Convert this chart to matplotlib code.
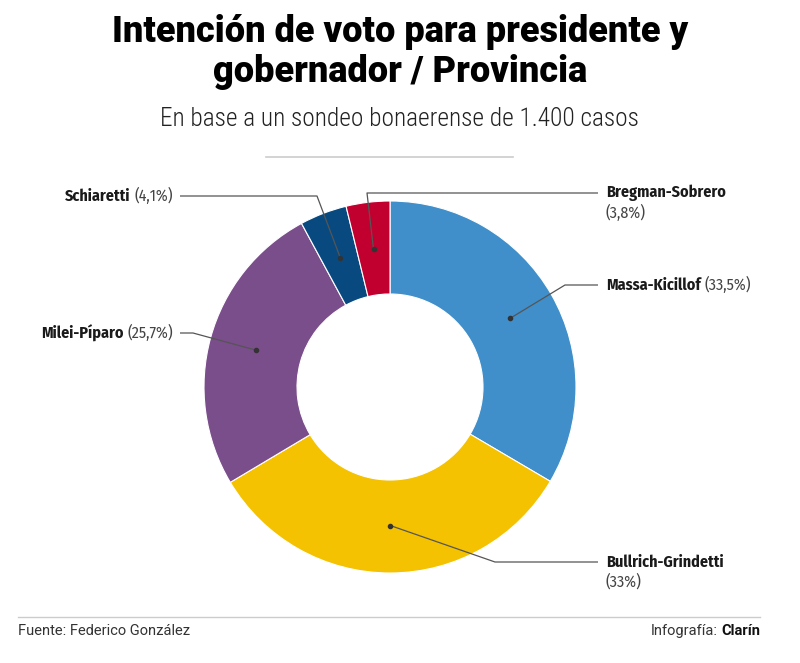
import matplotlib
matplotlib.use("Agg")
import matplotlib.pyplot as plt
import numpy as np

# ---- data ----
categories = ["Massa-Kicillof", "Bullrich-Grindetti", "Milei-Píparo", "Schiaretti", "Bregman-Sobrero"]
values = [33.5, 33.0, 25.7, 4.1, 3.8]
value_labels = ["(33,5%)", "(33%)", "(25,7%)", "(4,1%)", "(3,8%)"]
colors = ["#408FCA", "#F4C200", "#7A4D8B", "#084A80", "#C1002F"]

title_lines = ["Intención de voto para presidente y", "gobernador / Provincia"]
subtitle = "En base a un sondeo bonaerense de 1.400 casos"
source = "Fuente: Federico González"

W, H = 800, 663
fig = plt.figure(figsize=(W / 100, H / 100), dpi=100)
ax = fig.add_axes([0, 0, 1, 1])

def Y(y):
    return H - y

TITLEF = ["Roboto", "DejaVu Sans"]
SUBF = ["Roboto Condensed", "DejaVu Sans"]
LABELF = ["Fira Sans Condensed", "DejaVu Sans"]

cx, cy, R = 390, 387, 186
wedges, _ = ax.pie(values, startangle=90, counterclock=False, colors=colors,
                   radius=R, center=(cx, Y(cy)),
                   wedgeprops=dict(width=R * 0.5, edgecolor="white", linewidth=0.8))
ax.set_xlim(0, W)
ax.set_ylim(0, H)
ax.set_aspect("equal")
ax.axis("off")

layout = {
    "Massa-Kicillof": (565, 285, "right", True),
    "Bullrich-Grindetti": (495, 562, "right", False),
    "Milei-Píparo": (193, 333, "left", True),
    "Schiaretti": (317, 196, "left", True),
    "Bregman-Sobrero": (367, 193, "right", False),
}

FS = 11.5
for w, name, vl in zip(wedges, categories, value_labels):
    ang = np.deg2rad((w.theta1 + w.theta2) / 2)
    r = R * 0.745
    px, py = cx + r * np.cos(ang), Y(cy) + r * np.sin(ang)
    ex, ey, side, single = layout[name]
    endx = 598 if side == "right" else 180
    ax.plot([px, ex, endx], [py, Y(ey), Y(ey)], color="#555555", lw=0.9,
            solid_capstyle="butt", zorder=5)
    ax.plot([px], [py], "o", color="#333333", ms=3, zorder=6)
    if side == "right":
        tx = 606
        t = ax.text(tx, Y(ey), name, ha="left", va="center",
                    fontsize=FS, fontweight="bold", family=LABELF, color="#1a1a1a")
        if single:
            fig.canvas.draw()
            bb = t.get_window_extent()
            ax.text(bb.x1 + 4, Y(ey), vl, ha="left", va="center",
                    fontsize=FS, family=LABELF, color="#444444")
        else:
            ax.text(tx, Y(ey + 20), vl, ha="left", va="center",
                    fontsize=FS, family=LABELF, color="#444444")
    else:
        tx = 173
        t = ax.text(tx, Y(ey), vl, ha="right", va="center",
                    fontsize=FS, family=LABELF, color="#444444")
        fig.canvas.draw()
        bb = t.get_window_extent()
        ax.text(bb.x0 - 4, Y(ey), name, ha="right", va="center",
                fontsize=FS, fontweight="bold", family=LABELF, color="#1a1a1a")

# titles
for line, base in zip(title_lines, [42, 82]):
    ax.text(W / 2, Y(base), line, ha="center", va="baseline", fontsize=26,
            fontweight="black", family=TITLEF, color="#000000")
ax.text(W / 2 - 1, Y(126), subtitle, ha="center", va="baseline", fontsize=18.3,
        fontweight="light", family=SUBF, color="#222222")
ax.plot([266, 513], [Y(157), Y(157)], color="#cccccc", lw=1.2)

# footer
ax.plot([18, 760], [Y(617), Y(617)], color="#cccccc", lw=1.0)
FF = 10.5
FOOTF = ["Roboto", "DejaVu Sans"]
ax.text(18, Y(635), source, ha="left", va="baseline", fontsize=FF,
        family=FOOTF, color="#333333")
t = ax.text(760, Y(635), "Clarín", ha="right", va="baseline", fontsize=FF,
            fontweight="bold", family=FOOTF, color="#111111")
fig.canvas.draw()
bb = t.get_window_extent()
ax.text(bb.x0 - 3, Y(635), "Infografía:", ha="right", va="baseline", fontsize=FF,
        family=FOOTF, color="#333333")

fig.savefig("out.png", dpi=100, facecolor="white")
